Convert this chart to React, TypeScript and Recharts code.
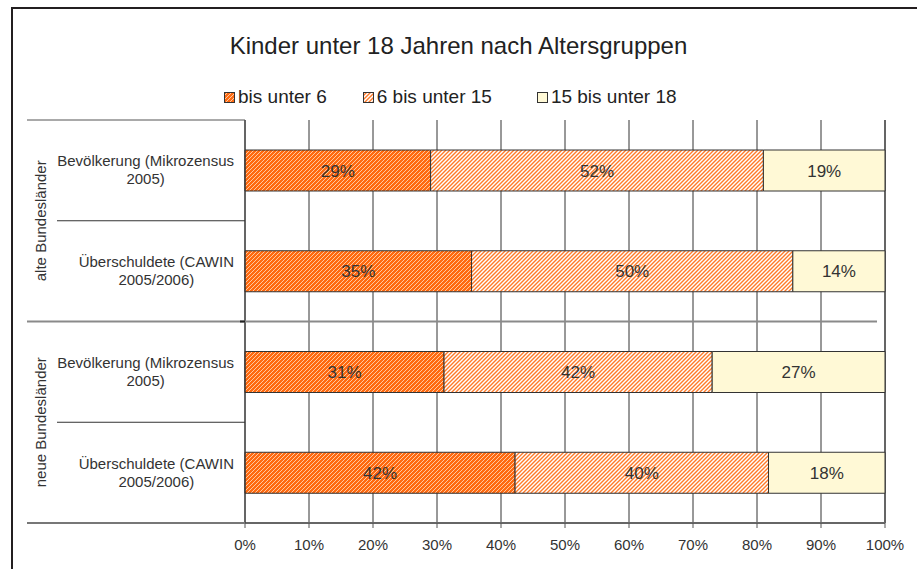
import React from "react";
import {
  Bar,
  BarChart,
  CartesianGrid,
  LabelList,
  Legend,
  XAxis,
  YAxis,
} from "recharts";

// categories (two-line labels) and their groups
const categories = [
  "Bevölkerung (Mikrozensus\n2005)",
  "Überschuldete (CAWIN\n2005/2006)",
  "Bevölkerung (Mikrozensus\n2005)",
  "Überschuldete (CAWIN\n2005/2006)",
];
const groups = ["alte Bundesländer", "neue Bundesländer"];

// shares in percent
const under6 = [29, 35.4, 31.1, 42.2];
const from6to15 = [52, 50.2, 41.9, 39.6];
const from15to18 = [19, 14.4, 27, 18.2];

const xTicks = [0, 10, 20, 30, 40, 50, 60, 70, 80, 90, 100];

const seriesNames = ["bis unter 6", "6 bis unter 15", "15 bis unter 18"];

const data = categories.map((name, i) => ({
  id: `c${i}`,
  name,
  under6: under6[i],
  mid: from6to15[i],
  upper: from15to18[i],
}));

const W = 917;
const H = 569;
const LEGEND_H = 24;
const MARGIN = { top: 120 - LEGEND_H, right: 32, bottom: 16, left: 0 };
const Y_AXIS_W = 245;
const X_AXIS_H = 30;
const PLOT_TOP = 120;
const PLOT_BOTTOM = H - MARGIN.bottom - X_AXIS_H;
const BAND = (PLOT_BOTTOM - PLOT_TOP) / categories.length;
const FONT = "'Liberation Sans', Arial, sans-serif";

const fills = ["url(#hatchDark)", "url(#hatchLight)", "#FFF9D6"];
const keys = ["under6", "mid", "upper"];

let ctx: CanvasRenderingContext2D | null = null;
const textWidth = (s: string, size: number) => {
  if (!ctx) ctx = document.createElement("canvas").getContext("2d");
  if (!ctx) return s.length * size * 0.5;
  ctx.font = `${size}px 'Liberation Sans', Arial`;
  return ctx.measureText(s).width;
};

const CategoryTick = (props: any) => {
  const { y, index, payload } = props;
  const lines = String(payload.value).split("\n");
  const maxW = Math.max(...lines.map((l) => textWidth(l, 15)));
  const cx = Y_AXIS_W - 11 - maxW / 2;
  const bottom = y + BAND / 2;
  const groupEnd = index % 2 === 1;
  return (
    <g>
      {lines.map((l, i) => (
        <text
          key={i}
          x={cx}
          y={y - 4 + i * 18}
          textAnchor="middle"
          fontSize={15}
          fill="#333"
          fontFamily={FONT}
        >
          {l}
        </text>
      ))}
      {index === 0 && (
        <line x1={27} x2={Y_AXIS_W} y1={y - BAND / 2} y2={y - BAND / 2} stroke="#555" />
      )}
      {!groupEnd && (
        <line x1={57} x2={Y_AXIS_W} y1={bottom} y2={bottom} stroke="#333" />
      )}
      {groupEnd && index < categories.length - 1 && (
        <g>
          <line x1={27} x2={877} y1={bottom} y2={bottom} stroke="#8a8a8a" strokeWidth={2} />
          <line x1={240} x2={Y_AXIS_W} y1={bottom} y2={bottom} stroke="#222" strokeWidth={2} />
        </g>
      )}
      {groupEnd && index === categories.length - 1 && (
        <line x1={27} x2={Y_AXIS_W} y1={bottom} y2={bottom} stroke="#777" strokeWidth={2} />
      )}
      {!groupEnd && (
        <text
          x={40}
          y={bottom}
          transform={`rotate(-90 40 ${bottom})`}
          textAnchor="middle"
          dominantBaseline="central"
          fontSize={15}
          fill="#333"
          fontFamily={FONT}
        >
          {groups[index / 2]}
        </text>
      )}
    </g>
  );
};

const itemGaps = [0, 36, 45];

const LegendContent = () => (
  <div
    style={{
      display: "flex",
      justifyContent: "flex-start",
      fontFamily: FONT,
      fontSize: 19,
      color: "#222",
      paddingLeft: 224,
    }}
  >
    {seriesNames.map((n, i) => (
      <div
        key={n}
        style={{ display: "flex", alignItems: "center", gap: 3, marginLeft: itemGaps[i] }}
      >
        <svg width={11} height={11}>
          <rect x={0.5} y={0.5} width={10} height={10} fill={fills[i]} stroke="#333" />
        </svg>
        <span>{n}</span>
      </div>
    ))}
  </div>
);

export default function App() {
  return (
    <div
      style={{
        position: "absolute",
        left: 0,
        top: 0,
        width: W,
        height: H,
        background: "#fff",
        fontFamily: FONT,
        overflow: "hidden",
      }}
    >
      <svg width={0} height={0} style={{ position: "absolute" }}>
        <defs>
          <pattern id="hatchDark" width={4} height={4} patternUnits="userSpaceOnUse">
            <rect width={4} height={4} fill="#FF6A10" />
            <path
              d="M0,4 L4,0 M-1,1 L1,-1 M3,5 L5,3"
              stroke="#FFD2B0"
              strokeWidth={0.9}
            />
          </pattern>
          <pattern id="hatchLight" width={4} height={4} patternUnits="userSpaceOnUse">
            <rect width={4} height={4} fill="#fff" />
            <path
              d="M0,4 L4,0 M-1,1 L1,-1 M3,5 L5,3"
              stroke="#FF7A28"
              strokeWidth={1.4}
            />
          </pattern>
        </defs>
      </svg>
      <div
        style={{
          position: "absolute",
          left: 11,
          top: 7,
          width: W,
          height: H,
          borderLeft: "2px solid #231f20",
          borderTop: "2px solid #231f20",
        }}
      />
      <div
        style={{
          position: "absolute",
          top: 32,
          left: 0,
          width: W,
          textAlign: "center",
          fontSize: 24,
          color: "#222",
        }}
      >
        Kinder unter 18 Jahren nach Altersgruppen
      </div>
      <BarChart
        width={W}
        height={H}
        data={data}
        layout="vertical"
        margin={MARGIN}
        barSize={41}
      >
        <CartesianGrid vertical horizontal={false} stroke="#333" />
        <XAxis
          type="number"
          domain={[0, 100]}
          ticks={xTicks}
          tickFormatter={(v) => `${v}%`}
          height={X_AXIS_H}
          interval={0}
          tickSize={5}
          tickMargin={11}
          stroke="#555"
          tick={{ fill: "#333", fontSize: 15, fontFamily: FONT }}
          axisLine={{ stroke: "#666", strokeWidth: 2 }}
        />
        <XAxis
          xAxisId="top"
          orientation="top"
          type="number"
          domain={[0, 100]}
          height={0}
          tick={false}
          tickLine={false}
          axisLine={{ stroke: "#999" }}
        />
        <YAxis
          type="category"
          dataKey="name"
          width={Y_AXIS_W}
          tickLine={false}
          interval={0}
          axisLine={{ stroke: "#333" }}
          tick={<CategoryTick />}
        />
        <YAxis
          yAxisId="right"
          orientation="right"
          type="category"
          dataKey="id"
          width={0}
          tick={false}
          tickLine={false}
          axisLine={{ stroke: "#aaa" }}
        />
        <Legend
          verticalAlign="top"
          height={LEGEND_H}
          content={<LegendContent />}
          wrapperStyle={{ top: 86, left: 0, width: W }}
        />
        {keys.map((k, i) => (
          <Bar
            key={k}
            dataKey={k}
            name={seriesNames[i]}
            stackId="a"
            fill={fills[i]}
            stroke="#333"
            strokeWidth={1}
            isAnimationActive={false}
          >
            <LabelList
              dataKey={k}
              position="center"
              formatter={(v: any) => `${Math.round(Number(v))}%`}
              fill="#333"
              fontSize={17}
              fontFamily={FONT}
            />
          </Bar>
        ))}
      </BarChart>
    </div>
  );
}
